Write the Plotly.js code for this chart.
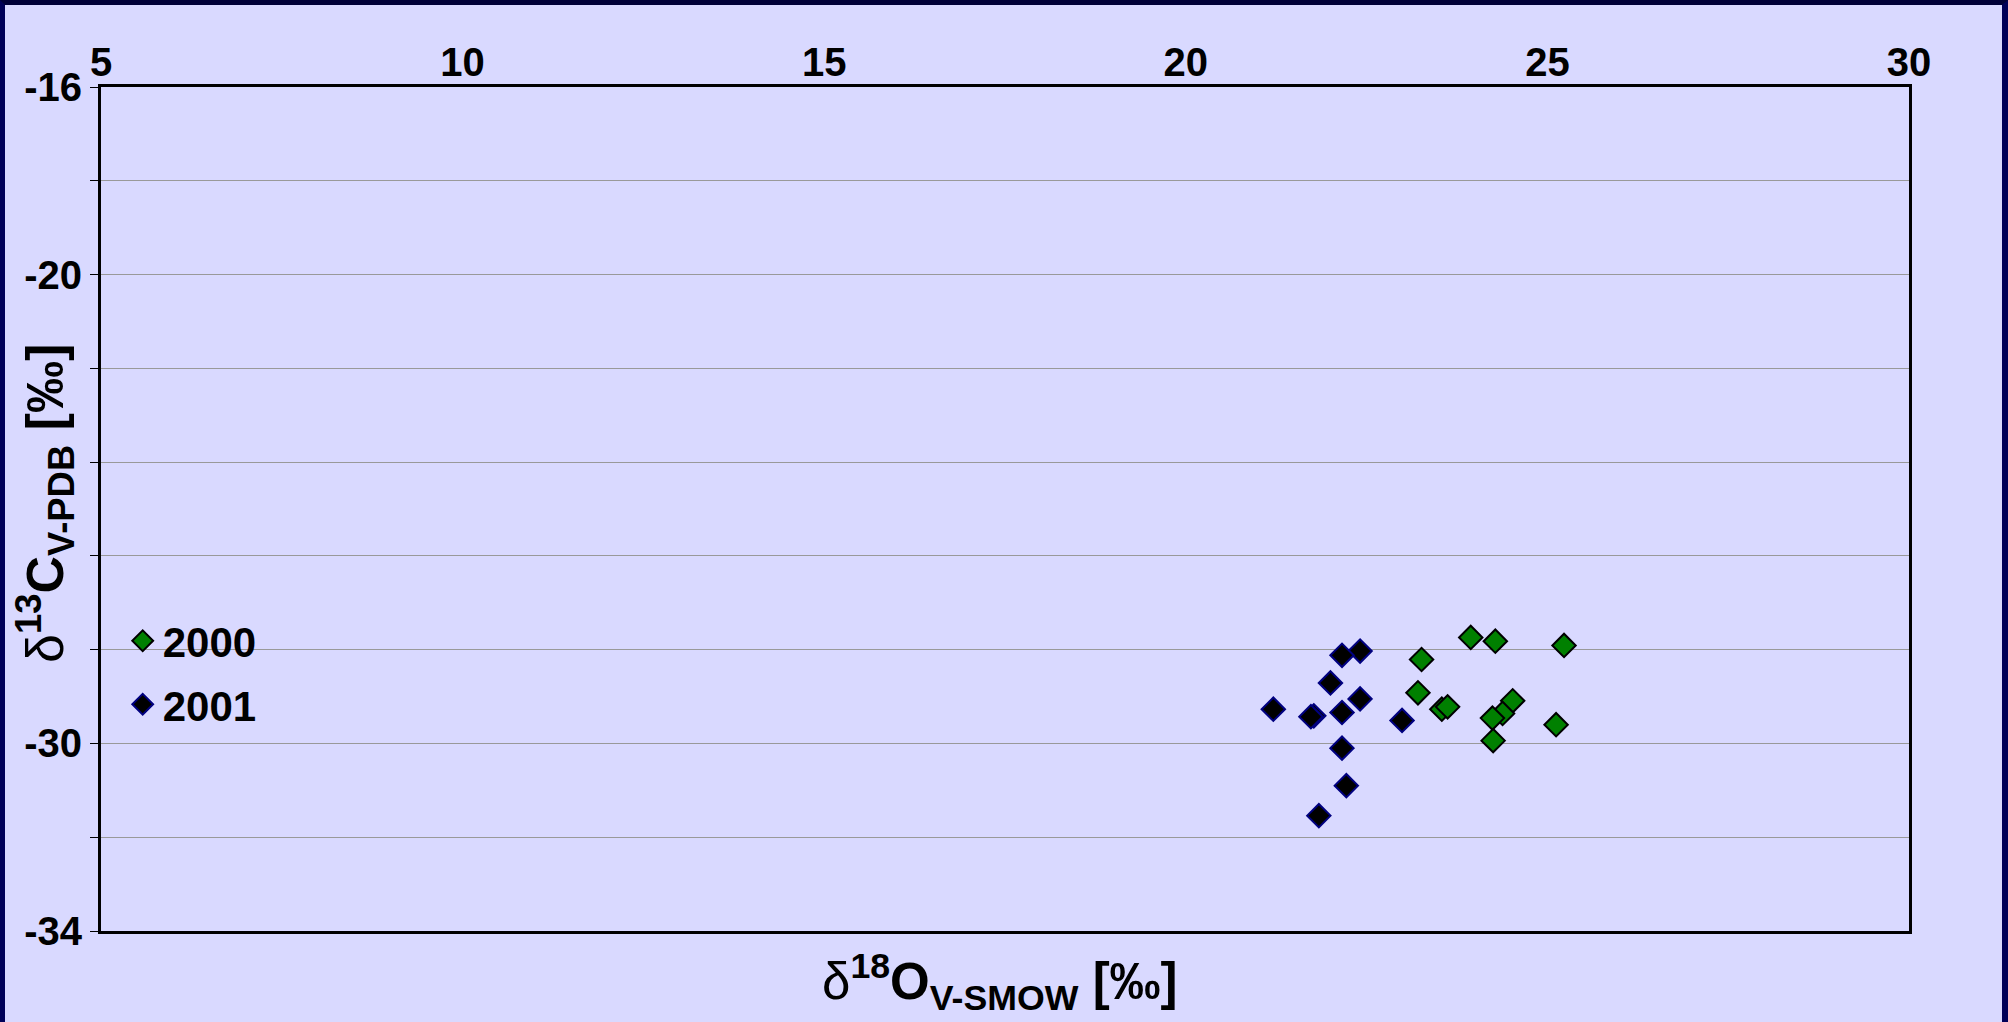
<!DOCTYPE html>
<html>
<head>
<meta charset="utf-8">
<script src="https://cdn.plot.ly/plotly-3.0.1.min.js"></script>
<style>
  html, body { margin: 0; padding: 0; background: #D9D9FF; }
  #frame { position: absolute; left: 0; top: 0; width: 2008px; height: 1022px; box-sizing: border-box;
           background: #D9D9FF; border-top: 5px solid #000038; border-left: 5px solid #000058; border-right: 6px solid #000058; }
  #chart { position: absolute; left: 0; top: 0; }
</style>
</head>
<body>
<div id="frame"><div id="chart"></div></div>
<script>
// Data
const series2000Name = "2000";
const x2000 = [23.94, 24.28, 25.23, 23.26, 23.21, 23.54, 23.62, 24.52, 24.38, 24.24, 25.12, 24.25];
const y2000 = [-27.74, -27.82, -27.91, -28.21, -28.92, -29.27, -29.22, -29.09, -29.36, -29.46, -29.60, -29.94];

const series2001Name = "2001";
const x2001 = [22.41, 22.16, 22.00, 22.41, 21.21, 21.77, 21.73, 22.16, 22.99, 22.16, 22.22, 21.84];
const y2001 = [-28.03, -28.12, -28.71, -29.05, -29.27, -29.41, -29.43, -29.34, -29.51, -30.10, -30.90, -31.54];

const xTickVals = [5, 10, 15, 20, 25, 30];
const yLabelVals = [-34, -30, -20, -16];          // labelled ticks
const yLabelText = ["-34", "-30", "-20", "-16"];  // hyphen-minus as in the reference
const yMinorStep = 2;                             // unlabelled ticks / gridlines every 2

const xTitle = "δ<b><sup>18</sup>O<sub>V-SMOW</sub> [‰]</b>";
const yTitle = "δ<b><sup>13</sup>C<sub>V-PDB</sub> [‰]</b>";

const BG = "#D9D9FF";
const FONT = "Liberation Sans, Arial, sans-serif";

const traces = [
  {
    type: "scatter", mode: "markers", name: series2000Name, legendgroup: "a",
    x: x2000, y: y2000,
    marker: { symbol: "diamond", size: 18, color: "#008000", line: { color: "#000000", width: 2 } }
  },
  {
    type: "scatter", mode: "markers", name: series2001Name, legendgroup: "b",
    x: x2001, y: y2001,
    marker: { symbol: "diamond", size: 18, color: "#000000", line: { color: "#000080", width: 2 } }
  }
];

const layout = {
  width: 1997, height: 1017,
  margin: { l: 96, r: 93, t: 82, b: 91, pad: 0 },
  paper_bgcolor: "rgba(0,0,0,0)",
  plot_bgcolor: BG,
  font: { family: FONT, color: "#000000", size: 40, weight: "bold" },
  showlegend: true,
  legend: {
    x: 0.012, y: 0.384, xanchor: "left", yanchor: "top",
    bgcolor: "rgba(0,0,0,0)", borderwidth: 0,
    traceorder: "grouped", tracegroupgap: 6,
    font: { family: FONT, size: 42, color: "#000000", weight: "bold" }
  },
  xaxis: {
    range: [5, 30], side: "top", tickvals: xTickVals, ticks: "",
    ticklabelstandoff: -8,
    showgrid: false, zeroline: false,
    showline: true, mirror: true, linecolor: "#000000", linewidth: 3,
    tickfont: { family: FONT, size: 40, color: "#000000", weight: "bold" }
  },
  yaxis: {
    range: [-34, -16], tickvals: yLabelVals, ticktext: yLabelText,
    ticks: "outside", ticklen: 8, tickwidth: 1, tickcolor: "#000000",
    showgrid: true, gridcolor: "#999999", gridwidth: 1, zeroline: false,
    minor: { tick0: -34, dtick: yMinorStep, ticks: "outside", ticklen: 8, tickwidth: 1, tickcolor: "#000000",
             showgrid: true, gridcolor: "#999999", gridwidth: 1 },
    showline: true, mirror: true, linecolor: "#000000", linewidth: 3,
    tickfont: { family: FONT, size: 40, color: "#000000", weight: "bold" }
  },
  shapes: [
    { type: "rect", xref: "paper", yref: "paper", x0: 0, x1: 0.095, y0: 0, y1: 0.41,
      fillcolor: BG, line: { width: 0 }, layer: "between" }
  ],
  annotations: [
    { xref: "paper", yref: "paper", x: 0.497, y: -0.060, xanchor: "center", yanchor: "middle",
      showarrow: false, text: xTitle,
      font: { family: FONT, size: 51, color: "#000000", weight: "normal" } },
    { xref: "paper", yref: "paper", x: -0.031, y: 0.507, xanchor: "center", yanchor: "middle",
      textangle: -90, showarrow: false, text: yTitle,
      font: { family: "Liberation Sans Narrow, Liberation Sans, Arial, sans-serif", size: 52, color: "#000000", weight: "normal" } }
  ]
};

Plotly.newPlot("chart", traces, layout, { displayModeBar: false, staticPlot: true });
</script>
</body>
</html>
